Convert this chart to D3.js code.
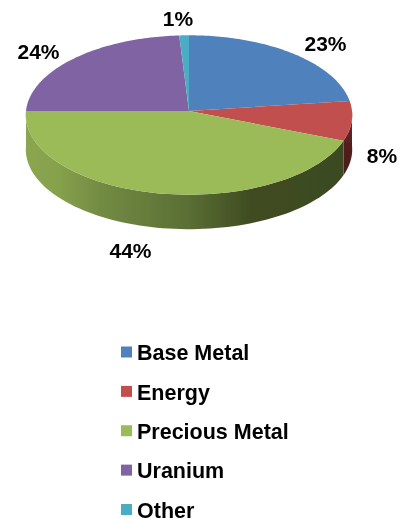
<!DOCTYPE html>
<html>
<head>
<meta charset="utf-8">
<script src="https://cdn.jsdelivr.net/npm/d3@7"></script>
<style>
  html, body { margin: 0; padding: 0; background: #fff; }
  svg { display: block; }
  text { font-family: "Liberation Sans", Arial, sans-serif; font-weight: bold; fill: #000; }
</style>
</head>
<body>
<script>
var categories = ["Base Metal", "Energy", "Precious Metal", "Uranium", "Other"];
var shares = [23, 8, 44, 24, 1];
var percentLabels = ["23%", "8%", "44%", "24%", "1%"];
var colors = ["#4f81bd", "#c0504d", "#9bbb59", "#8064a2", "#4bacc6"];

var width = 401, height = 519;

// tilted disc: k is the perspective, near half comes out taller than far half
var disc = { cx: 189, cy: 111, rx: 163, ry: 79.5, k: 0.05 };
var depth = 34.5;

// label centres
var labelX = d3.scaleOrdinal().domain(categories).range([325.5, 382, 130.5, 38.5, 178]);
var labelY = d3.scaleOrdinal().domain(categories).range([43, 155, 250, 51, 18.5]);

var legendY = d3.scalePoint().domain(categories).range([352.5, 510]);

var svg = d3.select("body").append("svg")
    .attr("width", width)
    .attr("height", height);

var defs = svg.append("defs");

// the reference is a slightly soft bitmap
defs.append("filter").attr("id", "soft")
    .append("feGaussianBlur").attr("stdDeviation", 0.4);

var sideGrad = defs.append("linearGradient")
    .attr("id", "greenSide")
    .attr("gradientUnits", "userSpaceOnUse")
    .attr("x1", 26).attr("x2", 352).attr("y1", 0).attr("y2", 0);
[[0, "#8aa64f"], [0.1, "#86a14c"], [0.23, "#728b43"], [0.5, "#5a6e34"], [0.69, "#3f4c21"], [1, "#3d4a1f"]]
    .forEach(function (s) {
        sideGrad.append("stop").attr("offset", s[0]).attr("stop-color", s[1]);
    });

var redGrad = defs.append("linearGradient")
    .attr("id", "redSide")
    .attr("x1", 0).attr("x2", 0).attr("y1", 0).attr("y2", 1);
redGrad.append("stop").attr("offset", 0).attr("stop-color", "#7a2f2d");
redGrad.append("stop").attr("offset", 0.5).attr("stop-color", "#561f1f");
redGrad.append("stop").attr("offset", 1).attr("stop-color", "#4a1c1c");

var pie = d3.pie().sort(null).value(function (d) { return d; });
var slices = pie(shares);

// angle is clockwise from 12 o'clock
function project(a, drop) {
    var w = 1 + disc.k * Math.cos(a);
    return [disc.cx + disc.rx * Math.sin(a) / w, disc.cy - disc.ry * Math.cos(a) / w + drop];
}

function arcPoints(a0, a1, drop) {
    return d3.range(0, 81).map(function (i) {
        return project(a0 + (a1 - a0) * i / 80, drop);
    });
}

var line = d3.line();
var chart = svg.append("g").attr("filter", "url(#soft)");

// side wall, only the part of each slice facing the viewer
var sideFill = ["none", "url(#redSide)", "url(#greenSide)", "none", "none"];
chart.append("g").selectAll("path")
    .data(slices.filter(function (d) { return d.endAngle > Math.PI / 2 && d.startAngle < 3 * Math.PI / 2; }))
    .enter().append("path")
    .attr("d", function (d) {
        var a0 = Math.max(d.startAngle, Math.PI / 2), a1 = Math.min(d.endAngle, 3 * Math.PI / 2);
        return line(arcPoints(a0, a1, 0).concat(arcPoints(a0, a1, depth).reverse())) + "Z";
    })
    .attr("fill", function (d) { return sideFill[d.index]; });

// top face
chart.append("g").selectAll("path")
    .data(slices)
    .enter().append("path")
    .attr("d", function (d) {
        return line([[disc.cx, disc.cy]].concat(arcPoints(d.startAngle, d.endAngle, 0))) + "Z";
    })
    .attr("fill", function (d) { return colors[d.index]; });

svg.append("g").attr("filter", "url(#soft)").selectAll("text")
    .data(categories)
    .enter().append("text")
    .attr("x", function (d) { return labelX(d); })
    .attr("y", function (d) { return labelY(d); })
    .attr("dy", 7.6)
    .attr("text-anchor", "middle")
    .attr("font-size", 21)
    .text(function (d, i) { return percentLabels[i]; });

var legend = svg.append("g").attr("filter", "url(#soft)").selectAll("g")
    .data(categories)
    .enter().append("g")
    .attr("transform", function (d) { return "translate(121," + legendY(d) + ")"; });
legend.append("rect")
    .attr("x", 0).attr("y", -6)
    .attr("width", 11).attr("height", 11)
    .attr("fill", function (d, i) { return colors[i]; });
legend.append("text")
    .attr("x", 16)
    .attr("dy", 7.8)
    .attr("font-size", 21.5)
    .text(function (d) { return d; });
</script>
</body>
</html>
